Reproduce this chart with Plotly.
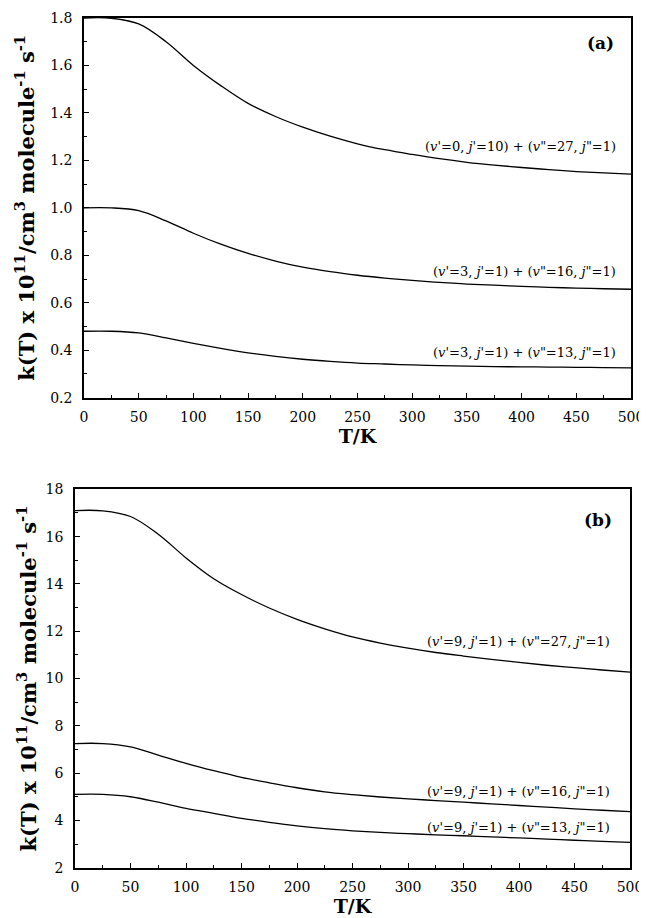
import plotly.graph_objects as go

# Temperature grid (K)
T = [0, 25, 50, 75, 100, 125, 150, 175, 200, 225, 250, 275, 300, 325, 350, 375, 400, 425, 450, 475, 500]

# Panel (a) rate constants (x 1e-11 cm^3 molecule^-1 s^-1)
a_v0j10_v27 = [1.800, 1.799, 1.775, 1.700, 1.600, 1.515, 1.440, 1.385, 1.340, 1.302, 1.270,
               1.245, 1.225, 1.207, 1.192, 1.180, 1.170, 1.161, 1.153, 1.147, 1.142]
a_v3j1_v16 = [1.000, 1.000, 0.988, 0.945, 0.893, 0.847, 0.808, 0.776, 0.750, 0.731, 0.716,
              0.704, 0.694, 0.686, 0.679, 0.674, 0.669, 0.665, 0.662, 0.659, 0.657]
a_v3j1_v13 = [0.480, 0.480, 0.473, 0.452, 0.429, 0.408, 0.389, 0.374, 0.362, 0.353, 0.346,
              0.342, 0.338, 0.335, 0.333, 0.331, 0.330, 0.329, 0.328, 0.327, 0.326]

# Panel (b)
b_v9j1_v27 = [17.10, 17.09, 16.85, 16.10, 15.10, 14.22, 13.55, 12.98, 12.50, 12.10, 11.76,
              11.50, 11.28, 11.10, 10.95, 10.81, 10.68, 10.56, 10.46, 10.36, 10.27]
b_v9j1_v16 = [7.25, 7.25, 7.11, 6.76, 6.41, 6.10, 5.82, 5.59, 5.38, 5.21, 5.09,
              4.99, 4.91, 4.84, 4.77, 4.70, 4.63, 4.56, 4.49, 4.43, 4.37]
b_v9j1_v13 = [5.10, 5.10, 5.00, 4.77, 4.51, 4.30, 4.09, 3.92, 3.77, 3.65, 3.56,
              3.49, 3.44, 3.39, 3.35, 3.30, 3.26, 3.21, 3.16, 3.11, 3.07]

labels_a = ["(<i>v</i>'=0, <i>j</i>'=10) + (<i>v</i>\"=27, <i>j</i>\"=1)",
            "(<i>v</i>'=3, <i>j</i>'=1) + (<i>v</i>\"=16, <i>j</i>\"=1)",
            "(<i>v</i>'=3, <i>j</i>'=1) + (<i>v</i>\"=13, <i>j</i>\"=1)"]
labels_b = ["(<i>v</i>'=9, <i>j</i>'=1) + (<i>v</i>\"=27, <i>j</i>\"=1)",
            "(<i>v</i>'=9, <i>j</i>'=1) + (<i>v</i>\"=16, <i>j</i>\"=1)",
            "(<i>v</i>'=9, <i>j</i>'=1) + (<i>v</i>\"=13, <i>j</i>\"=1)"]
label_y_a = [1.26, 0.73, 0.39]
label_y_b = [11.55, 5.21, 3.71]

x_ticks = [0, 50, 100, 150, 200, 250, 300, 350, 400, 450, 500]
ya_ticks = [0.2, 0.4, 0.6, 0.8, 1.0, 1.2, 1.4, 1.6, 1.8]
yb_ticks = [2, 4, 6, 8, 10, 12, 14, 16, 18]

# the page adds an 8px body margin, so the figure is sized to end at the window edge
OFF = 8
W, H = 647 - OFF, 918 - OFF
SERIF = "DejaVu Serif"
ytitle = "k(T) x 10<sup>11</sup>/cm<sup>3</sup> molecule<sup>-1</sup> s<sup>-1</sup>"

fig = go.Figure()
line = dict(color="black", width=1.3)
for ys in (a_v0j10_v27, a_v3j1_v16, a_v3j1_v13):
    fig.add_trace(go.Scatter(x=T, y=ys, mode="lines", line=dict(line, shape="spline", smoothing=1.0),
                             xaxis="x", yaxis="y", showlegend=False, hoverinfo="x+y"))
for ys in (b_v9j1_v27, b_v9j1_v16, b_v9j1_v13):
    fig.add_trace(go.Scatter(x=T, y=ys, mode="lines", line=dict(line, shape="spline", smoothing=1.0),
                             xaxis="x2", yaxis="y2", showlegend=False, hoverinfo="x+y"))

def xax(domain, anchor):
    return dict(domain=domain, anchor=anchor, range=[0, 500], tickvals=x_ticks, automargin=False,
                ticks="inside", ticklen=5, tickwidth=1, tickcolor="black", ticklabelstandoff=6,
                ticklabeloverflow="allow",
                minor=dict(ticks="inside", ticklen=3, dtick=25, tickcolor="black"),
                showline=True, linecolor="black", linewidth=1.5, mirror=True,
                showgrid=False, zeroline=False,
                tickfont=dict(family=SERIF, size=14, color="black"),
                title=dict(text="<b>T/K</b>", font=dict(family=SERIF, size=19, color="black"),
                           standoff=2))

def yax(domain, anchor, rng, ticks, fmt, minor_dt, standoff):
    return dict(domain=domain, anchor=anchor, range=rng, tickvals=ticks, tickformat=fmt, automargin=False,
                ticks="inside", ticklen=5, tickwidth=1, tickcolor="black", ticklabelstandoff=7,
                minor=dict(ticks="inside", ticklen=3, dtick=minor_dt, tickcolor="black"),
                showline=True, linecolor="black", linewidth=1.5, mirror=True,
                showgrid=False, zeroline=False,
                tickfont=dict(family=SERIF, size=14, color="black"),
                title=dict(text="<b>" + ytitle + "</b>", font=dict(family=SERIF, size=21, color="black"),
                           standoff=standoff))

xa_dom = [(84 - OFF) / W, (631 - OFF) / W]
xb_dom = [(75 - OFF) / W, (630 - OFF) / W]
ya_dom = [1 - (397.7 - OFF) / H, 1 - (18 - OFF) / H]
yb_dom = [1 - (867.7 - OFF) / H, 1 - (489.3 - OFF) / H]

fig.update_layout(
    width=W, height=H, margin=dict(l=0, r=0, t=0, b=0, autoexpand=False),
    paper_bgcolor="white", plot_bgcolor="white",
    xaxis=xax(xa_dom, "y"), yaxis=yax(ya_dom, "x", [0.2, 1.8], ya_ticks, ".1f", 0.1, 10),
    xaxis2=xax(xb_dom, "y2"), yaxis2=yax(yb_dom, "x2", [2, 18], yb_ticks, "d", 1, 3),
)

ann = []
for txt, yv in zip(labels_a, label_y_a):
    ann.append(dict(x=488, y=yv, xref="x", yref="y", text=txt, showarrow=False, xanchor="right",
                    font=dict(family=SERIF, size=13, color="black")))
for txt, yv in zip(labels_b, label_y_b):
    ann.append(dict(x=484, y=yv, xref="x2", yref="y2", text=txt, showarrow=False, xanchor="right",
                    font=dict(family=SERIF, size=13, color="black")))
ann.append(dict(x=486, y=1.695, xref="x", yref="y", text="<b>(a)</b>", showarrow=False, xanchor="right",
                font=dict(family=SERIF, size=17, color="black")))
ann.append(dict(x=486, y=16.7, xref="x2", yref="y2", text="<b>(b)</b>", showarrow=False, xanchor="right",
                font=dict(family=SERIF, size=17, color="black")))
fig.update_layout(annotations=ann)

fig.write_html("out.html")
